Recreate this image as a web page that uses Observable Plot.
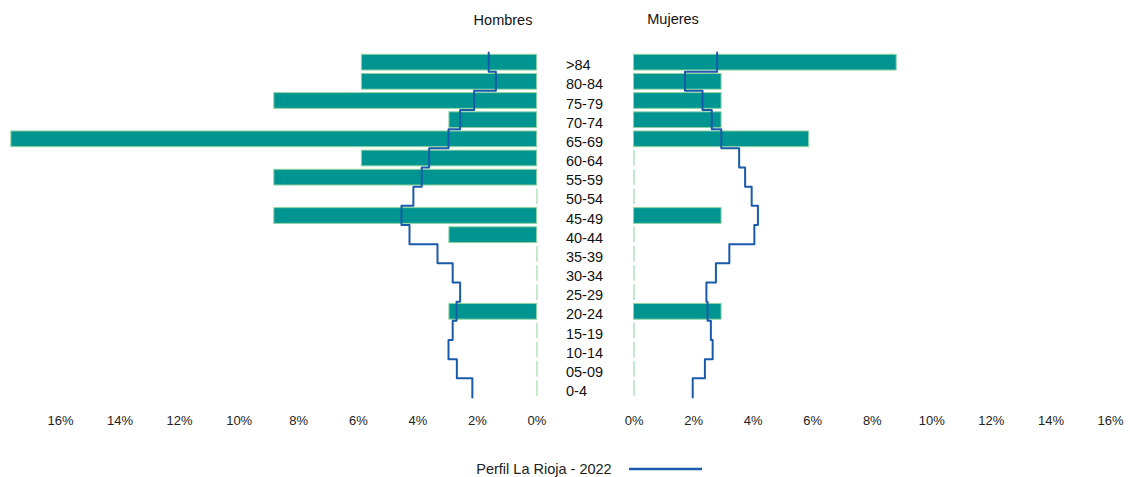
<!DOCTYPE html>
<html>
<head>
<meta charset="utf-8">
<script src="https://cdn.jsdelivr.net/npm/d3@7"></script>
<script src="https://cdn.jsdelivr.net/npm/@observablehq/plot@0.6"></script>
<style>
  body { margin: 0; background: #fff; font-family: "Liberation Sans", Arial, sans-serif; }
  #chart svg { display: block; }
  #legend { height: 16px; padding-top: 16px; display: flex; align-items: center; justify-content: center; font-size: 14.5px; color: #222; padding-left: 48px; }
</style>
</head>
<body>
<div id="chart"></div>
<div id="legend"><span>Perfil La Rioja - 2022</span><svg width="90" height="10"><line x1="17" x2="90" y1="5" y2="5" stroke="#1a5aab" stroke-width="2.5"/></svg></div>
<script>
const ages = [">84","80-84","75-79","70-74","65-69","60-64","55-59","50-54","45-49","40-44","35-39","30-34","25-29","20-24","15-19","10-14","05-09","0-4"];
const hombres = [5.88,5.88,8.82,2.94,17.65,5.88,8.82,0,8.82,2.94,0,0,0,2.94,0,0,0,0];
const mujeres = [8.82,2.94,2.94,2.94,5.88,0,0,0,2.94,0,0,0,0,2.94,0,0,0,0];
const perfilHombres = [1.62,1.38,2.11,2.58,2.97,3.62,3.87,4.15,4.55,4.28,3.34,2.83,2.58,2.70,2.83,2.97,2.69,2.17];
const perfilMujeres = [2.79,1.71,2.30,2.61,2.93,3.53,3.73,3.95,4.16,4.04,3.20,2.75,2.43,2.47,2.58,2.64,2.38,1.97];
const tickValues = [0,2,4,6,8,10,12,14,16];

const G = 3.26; // central gap (in % units) for the age labels
const rows = ages.map((a, i) => ({age: a, i, h: hombres[i], m: mujeres[i], ph: perfilHombres[i], pm: perfilMujeres[i]}));
const lineH = rows.flatMap(r => [{x: -(r.ph + G/2), y: r.i}, {x: -(r.ph + G/2), y: r.i + 1}]);
const lineM = rows.flatMap(r => [{x: r.pm + G/2, y: r.i}, {x: r.pm + G/2, y: r.i + 1}]);
const ticks = [...tickValues.map(t => -(t + G/2)), ...tickValues.map(t => t + G/2)];

const fill = "#009590", edge = "#8fd3a0", blue = "#1a5aab";
const b1 = 0.12, b2 = 0.94;

const chart = Plot.plot({
  width: 1130,
  height: 445,
  marginLeft: 60,
  marginRight: 20,
  marginTop: 52,
  marginBottom: 48,
  style: {fontFamily: "Liberation Sans, Arial, sans-serif", fontSize: "13px", color: "#222"},
  x: {domain: [-(16 + G/2), 16 + G/2], axis: null},
  y: {domain: [0, 18], reverse: true, axis: null},
  marks: [
    Plot.ruleX(rows.filter(r => r.h === 0), {x: -G/2, y1: d => d.i + b1, y2: d => d.i + b2, stroke: edge, strokeWidth: 1}),
    Plot.ruleX(rows.filter(r => r.m === 0), {x: G/2, y1: d => d.i + b1, y2: d => d.i + b2, stroke: edge, strokeWidth: 1}),
    Plot.rect(rows.filter(r => r.h > 0), {x1: -G/2, x2: d => -(d.h + G/2), y1: d => d.i + b1, y2: d => d.i + b2, fill, stroke: edge, strokeWidth: 1}),
    Plot.rect(rows.filter(r => r.m > 0), {x1: G/2, x2: d => d.m + G/2, y1: d => d.i + b1, y2: d => d.i + b2, fill, stroke: edge, strokeWidth: 1}),
    Plot.line(lineH, {x: "x", y: "y", stroke: blue, strokeWidth: 2}),
    Plot.line(lineM, {x: "x", y: "y", stroke: blue, strokeWidth: 2}),
    Plot.text(rows, {x: -0.655, y: d => d.i + 0.68, text: "age", textAnchor: "start", fill: "#111", fontSize: 14.5}),
    Plot.axisX(ticks, {tickSize: 0, tickPadding: 18, label: null, tickFormat: d => Math.round(Math.abs(d) - G/2) + "%", fontSize: 13, fill: "#222"}),
    Plot.text(["Hombres"], {x: -2.77, y: -1.67, text: d => d, fontSize: 14.5, fill: "#111"}),
    Plot.text(["Mujeres"], {x: 2.94, y: -1.75, text: d => d, fontSize: 14.5, fill: "#111"})
  ]
});
document.getElementById("chart").append(chart);
</script>
</body>
</html>
